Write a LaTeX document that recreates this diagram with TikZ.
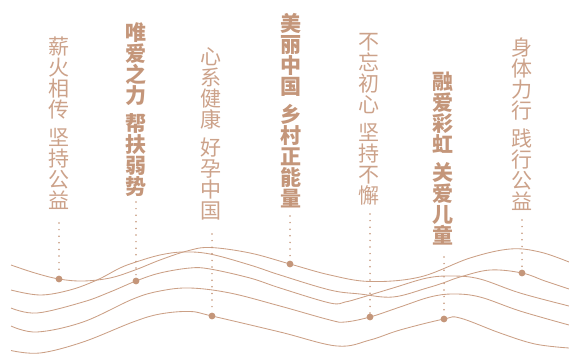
\documentclass[tikz,border=0pt]{standalone}
\usepackage{fontspec}
\newfontfamily\cjk{Noto Sans CJK SC}
\definecolor{tan}{RGB}{196,150,122}
\definecolor{tanlight}{RGB}{204,162,138}
\definecolor{wave}{RGB}{203,160,134}
\tikzset{
  col/.style={anchor=north, inner sep=0pt, align=center, text=tanlight,
    font=\cjk\fontsize{21}{21}\selectfont},
  colb/.style={col, text=tan, font=\cjk\bfseries\fontsize{21}{21}\selectfont},
  waveline/.style={draw=wave, line width=0.85pt, smooth, tension=0.6},
  dotline/.style={draw=tan, line width=1.7pt, line cap=round, dash pattern=on 0pt off 6.6pt},
  pt/.style={circle, fill=tan, inner sep=0pt, minimum size=6.8pt}
}
\begin{document}
\begin{tikzpicture}[x=1pt,y=-1pt]
\useasboundingbox (0,0) rectangle (569,353);
% waves
\draw[waveline] plot coordinates {(11,265) (35,273) (59,279) (83,281) (110,278) (135,270) (160,260) (187,251) (210,247.5) (250,253) (290,264) (330,275) (370,281.5) (420,277) (470,258) (510,249) (540,252) (569,262)};
\draw[waveline] plot coordinates {(11,290) (40,295) (70,290) (97,280) (120,268) (136,262) (160,255) (183,252) (210,254) (250,265) (280,275) (330,290) (360,294) (393,297) (427,288) (443,283) (460,277) (490,270) (522,273) (545,281) (569,289)};
\draw[waveline] plot coordinates {(11,308) (37,313) (83,302) (110,292) (136,281) (160,273) (190,268) (210,269) (250,278) (280,288) (330,303) (345,302) (360,298) (393,288) (427,278) (453,276) (480,279) (520,293) (569,306)};
\draw[waveline] plot coordinates {(11,326) (37,332) (83,322) (133,299) (160,291) (190,288) (230,293) (280,306) (330,320) (345,322) (370,317) (400,307) (430,297) (453,294) (480,297) (520,311) (569,325)};
\draw[waveline] plot coordinates {(11,350.5) (40,353) (83,342) (133,322) (160,314) (190,311.5) (212,316) (280,332) (337,346) (370,340) (400,330) (444,319) (460,318) (500,333) (535,344) (569,348)};
% texts
\node[col]  (t1) at (58.5,37) {薪\\火\\相\\传\\[7pt]坚\\持\\公\\益};
\node[colb] (t2) at (136,22) {唯\\爱\\之\\力\\[7pt]帮\\扶\\弱\\势};
\node[col]  (t3) at (211,47) {心\\系\\健\\康\\[7pt]好\\孕\\中\\国};
\node[colb] (t4) at (291,13) {美\\丽\\中\\国\\[7pt]乡\\村\\正\\能\\量};
\node[col]  (t5) at (369,33) {不\\忘\\初\\心\\[7pt]坚\\持\\不\\懈};
\node[colb] (t6) at (443,72) {融\\爱\\彩\\虹\\[7pt]关\\爱\\儿\\童};
\node[col]  (t7) at (522,38) {身\\体\\力\\行\\[7pt]践\\行\\公\\益};
% dots
\node[pt] (p1) at (59,279) {};
\node[pt] (p2) at (136,281) {};
\node[pt] (p3) at (212,316) {};
\node[pt] (p4) at (290,264) {};
\node[pt] (p5) at (370,317) {};
\node[pt] (p6) at (444,319) {};
\node[pt] (p7) at (522,273) {};
% dotted leaders
\coordinate (s1) at (59,223);
\coordinate (s2) at (136,202);
\coordinate (s3) at (212,234);
\coordinate (s4) at (290,216);
\coordinate (s5) at (370,214);
\coordinate (s6) at (444,257);
\coordinate (s7) at (522,220);
\foreach \i in {1,...,7} { \draw[dotline] (s\i) -- (p\i); }
\end{tikzpicture}
\end{document}
